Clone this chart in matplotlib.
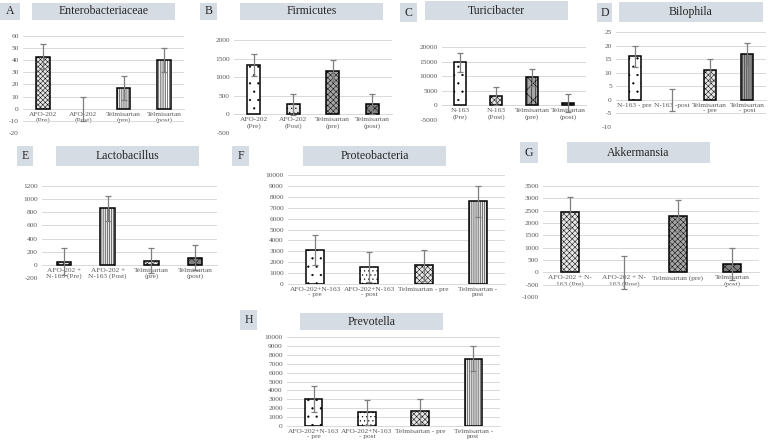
import matplotlib
matplotlib.use("Agg")
import matplotlib.pyplot as plt
from matplotlib.patches import Rectangle
import numpy as np

plt.rcParams['font.family'] = ['Liberation Serif', 'DejaVu Serif']
plt.rcParams['hatch.linewidth'] = 0.35
plt.rcParams['axes.unicode_minus'] = False

# ---------------- data ----------------
cats_A = ["AFO-202\n(Pre)", "AFO-202\n(Post)", "Telmisartan\n(pre)", "Telmisartan\n(post)"]
vals_A = [43, 0, 17, 40]
err_A = [10, 10, 10, 10]

cats_B = ["AFO-202\n(Pre)", "AFO-202\n(Post)", "Telmisartan\n(pre)", "Telmisartan\n(post)"]
vals_B = [1330, 270, 1170, 280]
err_B = [290, 280, 280, 280]

cats_C = ["N-163\n(Pre)", "N-163\n(Post)", "Telmisartan\n(pre)", "Telmisartan\n(post)"]
vals_C = [14800, 3100, 9600, 800]
err_C = [3200, 3100, 2900, 3200]

cats_D = ["N-163 - pre", "N-163 -post", "Telmisartan\n- pre", "Telmisartan\n- post"]
vals_D = [16, 0, 11, 17]
err_D = [4, 4, 4, 4]

cats_E = ["AFO-202 +\nN-163 (Pre)", "AFO-202 +\nN-163 (Post)", "Telmisartan\n(pre)", "Telmisartan\n(post)"]
vals_E = [50, 860, 60, 110]
err_E = [200, 195, 190, 195]

cats_F = ["AFO-202+N-163\n- pre", "AFO-202+N-163\n- post", "Telmisartan - pre", "Telmisartan -\npost"]
vals_F = [3100, 1550, 1700, 7600]
err_F = [1380, 1380, 1400, 1420]

cats_G = ["AFO-202 + N-\n163 (Pre)", "AFO-202 + N-\n163 (Post)", "Telmisartan (pre)", "Telmisartan\n(post)"]
vals_G = [2430, 0, 2300, 330]
err_G = [630, 660, 650, 640]

cats_H = ["AFO-202+N-163\n- pre", "AFO-202+N-163\n- post", "Telmisartan - pre", "Telmisartan -\npost"]
vals_H = [3050, 1550, 1650, 7550]
err_H = [1450, 1400, 1400, 1400]

# ---------------- layout helpers ----------------
W, H = 768, 448
fig = plt.figure(figsize=(W / 100, H / 100), dpi=100)
BOX = '#d6dce4'
TXT = '#595959'
GRID = '#d9d9d9'
FS = 5.3


def fbox(x0, y0, x1, y1, text, fs=8.5):
    r = Rectangle((x0 / W, 1 - y1 / H), (x1 - x0) / W, (y1 - y0) / H,
                  transform=fig.transFigure, facecolor=BOX, edgecolor='none')
    fig.patches.append(r)
    fig.text((x0 + x1) / 2 / W, 1 - (y0 + y1) / 2 / H, text, ha='center', va='center',
             fontsize=fs, color='#262626')


def panel(letter_box, letter, title_box, title, ax_px, cats, vals, errs, ylim, ystep, styles):
    fbox(*letter_box, letter)
    fbox(*title_box, title)
    l, r, t, b = ax_px
    ax = fig.add_axes([l / W, 1 - b / H, (r - l) / W, (b - t) / H])
    x = np.arange(len(cats))
    for i, (v, e) in enumerate(zip(vals, errs)):
        fc, hatch = styles[i]
        ax.bar(x[i], v, width=0.33, facecolor=fc, edgecolor='black',
               linewidth=1.1 if v != 0 else 0, hatch=hatch, zorder=3)
    ax.errorbar(x, vals, yerr=errs, fmt='none', ecolor='#7f7f7f', elinewidth=0.9,
                capsize=2, capthick=0.9, zorder=4)
    ax.set_xlim(-0.5, len(cats) - 0.5)
    ax.set_ylim(*ylim)
    ax.set_yticks(np.arange(ylim[0], ylim[1] + ystep / 2, ystep))
    ax.yaxis.grid(True, color=GRID, linewidth=0.7, zorder=0)
    ax.set_axisbelow(True)
    for s in ['left', 'right', 'top']:
        ax.spines[s].set_visible(False)
    ax.spines['bottom'].set_position(('data', 0))
    ax.spines['bottom'].set_color(GRID)
    ax.spines['bottom'].set_linewidth(0.7)
    ax.set_xticks(x)
    ax.set_xticklabels(cats, fontsize=FS, color=TXT, linespacing=1.15)
    ax.tick_params(axis='x', length=0, pad=2)
    ax.tick_params(axis='y', length=0, pad=3, labelsize=FS, labelcolor=TXT)
    ax.set_facecolor('none')
    return ax


LG = '#e6e6e6'
MG = '#a6a6a6'
DG = '#7f7f7f'

panel((0, 3, 20, 20), 'A', (32, 3, 175, 20), 'Enterobacteriaceae',
      (23, 184, 36, 133), cats_A, vals_A, err_A, (-20, 60), 10,
      [(LG, 'xxxxxxx'), ('white', ''), (LG, '||||||||'), ('white', '|||||||||')])

panel((200, 3, 217, 20), 'B', (240, 3, 383, 20), 'Firmicutes',
      (234, 392, 40, 133), cats_B, vals_B, err_B, (-500, 2000), 500,
      [('white', '..'), (LG, '....'), (MG, 'xxxxxx'), (DG, 'xxxx')])

panel((400, 3, 417, 22), 'C', (425, 1, 568, 20), 'Turicibacter',
      (442, 586, 47, 120), cats_C, vals_C, err_C, (-5000, 20000), 5000,
      [('white', '..'), (LG, 'xxxxxx'), (MG, '||||xx'), (DG, 'xxxx')])

panel((597, 3, 612, 22), 'D', (619, 2, 763, 22), 'Bilophila',
      (616, 766, 32, 127), cats_D, vals_D, err_D, (-10, 25), 5,
      [('white', '..'), ('white', ''), (LG, 'xxxxxx'), (MG, '||||||||')])

panel((17, 146, 33, 166), 'E', (56, 146, 199, 166), 'Lactobacillus',
      (42, 217, 186, 278), cats_E, vals_E, err_E, (-200, 1200), 200,
      [(LG, 'xxxxxx'), (LG, '||||||||'), (LG, 'xxxxxx'), (DG, 'xxxx')])

panel((232, 146, 249, 166), 'F', (303, 146, 446, 166), 'Proteobacteria',
      (288, 505, 175, 284), cats_F, vals_F, err_F, (0, 10000), 1000,
      [('white', '..'), ('white', '....'), (LG, 'xxxxxx'), (LG, '||||||||')])

panel((520, 142, 538, 163), 'G', (567, 142, 710, 163), 'Akkermansia',
      (543, 759, 186, 297), cats_G, vals_G, err_G, (-1000, 3500), 500,
      [(LG, 'xxxxxx'), ('white', ''), (MG, 'xxxxxx'), (DG, 'xxxx')])

panel((240, 310, 257, 330), 'H', (300, 313, 443, 330), 'Prevotella',
      (287, 500, 337, 426), cats_H, vals_H, err_H, (0, 10000), 1000,
      [('white', '..'), ('white', '....'), (LG, 'xxxxxx'), (LG, '||||||||')])

fig.savefig('out.png', dpi=100)
